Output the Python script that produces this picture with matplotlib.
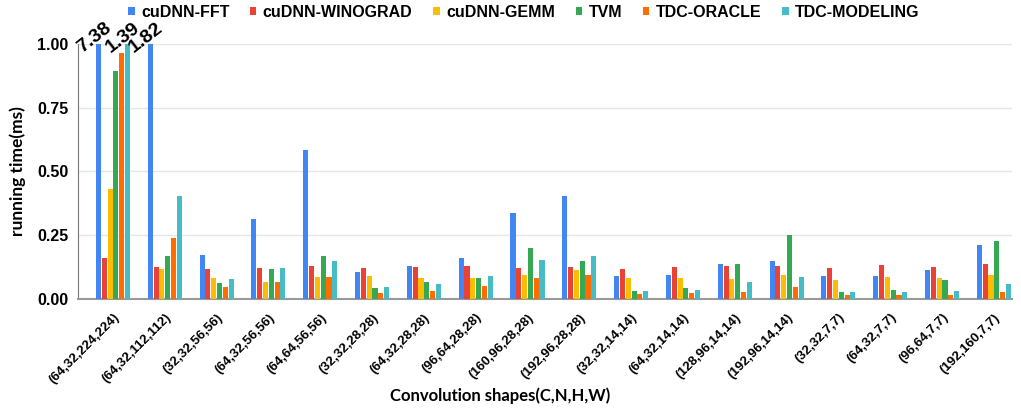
import numpy as np
import matplotlib.pyplot as plt
from matplotlib.transforms import ScaledTranslation

shapes = ['(64,32,224,224)', '(64,32,112,112)', '(32,32,56,56)', '(64,32,56,56)',
          '(64,64,56,56)', '(32,32,28,28)', '(64,32,28,28)', '(96,64,28,28)',
          '(160,96,28,28)', '(192,96,28,28)', '(32,32,14,14)', '(64,32,14,14)',
          '(128,96,14,14)', '(192,96,14,14)', '(32,32,7,7)', '(64,32,7,7)',
          '(96,64,7,7)', '(192,160,7,7)']

fft      = [7.38, 1.82, 0.174, 0.313, 0.585, 0.105, 0.131, 0.162, 0.338, 0.403,
            0.092, 0.094, 0.138, 0.147, 0.089, 0.089, 0.115, 0.210]
winograd = [0.161, 0.126, 0.119, 0.123, 0.131, 0.123, 0.126, 0.128, 0.122, 0.126,
            0.119, 0.124, 0.131, 0.131, 0.123, 0.134, 0.126, 0.139]
gemm     = [0.430, 0.116, 0.081, 0.068, 0.086, 0.092, 0.084, 0.081, 0.093, 0.113,
            0.084, 0.083, 0.077, 0.096, 0.073, 0.086, 0.083, 0.096]
tvm      = [0.895, 0.170, 0.063, 0.118, 0.168, 0.043, 0.065, 0.084, 0.200, 0.150,
            0.030, 0.043, 0.139, 0.250, 0.029, 0.037, 0.076, 0.228]
oracle   = [0.965, 0.240, 0.046, 0.068, 0.086, 0.024, 0.033, 0.052, 0.084, 0.095,
            0.020, 0.025, 0.029, 0.048, 0.017, 0.017, 0.017, 0.026]
modeling = [1.39, 0.403, 0.080, 0.123, 0.149, 0.048, 0.059, 0.089, 0.154, 0.168,
            0.031, 0.037, 0.068, 0.086, 0.029, 0.029, 0.033, 0.060]

series = [('cuDNN-FFT', fft, '#4285F4'),
          ('cuDNN-WINOGRAD', winograd, '#EA4335'),
          ('cuDNN-GEMM', gemm, '#FBBC04'),
          ('TVM', tvm, '#34A853'),
          ('TDC-ORACLE', oracle, '#FF6D01'),
          ('TDC-MODELING', modeling, '#46BDC6')]

fig = plt.figure(figsize=(10.21, 4.12), dpi=100)
ax = fig.add_axes([0.0764, 0.2743, 0.9148, 0.619])

x = np.arange(len(shapes))
w = 0.112
for i, (name, vals, col) in enumerate(series):
    pos = x + (i - 2.5) * w
    ax.bar(pos, np.minimum(vals, 1.0), width=w * 0.88, color=col, label=name, zorder=3)
    # values that run off the top get a label
    for p, v in zip(pos, vals):
        if v > 1.0:
            ax.text(p + 0.02, 1.0, '%.2f' % v, ha='center', va='bottom', rotation=38,
                    rotation_mode='anchor', fontsize=14, fontweight='bold',
                    family='Liberation Sans', clip_on=False, zorder=5)

ax.set_xlim(-0.675, 17.35)
ax.set_ylim(0, 1.0)
ax.set_yticks([0, 0.25, 0.5, 0.75, 1.0])
ax.set_yticklabels(['0.00', '0.25', '0.50', '0.75', '1.00'], fontsize=11.5,
                   fontweight='bold', family='Liberation Sans')
ax.set_xticks(x)
ax.set_xticklabels(shapes, rotation=45, ha='right', rotation_mode='anchor',
                   fontsize=9.5, fontweight='bold', family='Liberation Sans')
off = ScaledTranslation(2 / 72, 0, fig.dpi_scale_trans)
for lab in ax.get_xticklabels():
    lab.set_transform(lab.get_transform() + off)
ax.tick_params(axis='x', length=0, pad=9)
ax.tick_params(axis='y', length=0, pad=7)
ax.grid(axis='y', color='#e6e6e6', lw=1, zorder=0)
for s in ['top', 'right']:
    ax.spines[s].set_visible(False)
ax.spines['left'].set_color('#777777')
ax.spines['left'].set_linewidth(0.8)
ax.spines['bottom'].set_color('#999999')
ax.spines['bottom'].set_linewidth(1.5)

ax.set_ylabel('running time(ms)', fontsize=12.5, fontweight='bold', family='Lato',
              labelpad=8)
fig.text(0.49, 0.04, 'Convolution shapes(C,N,H,W)', ha='center', va='center',
         fontsize=12, fontweight='bold', family='Lato')

ax.legend(loc='center', bbox_to_anchor=(0.513, 0.97), bbox_transform=fig.transFigure,
          ncol=6, frameon=False,
          prop={'family': 'Liberation Sans', 'size': 11.5, 'weight': 'bold'},
          handlelength=0.4, handleheight=0.4, handletextpad=0.4, columnspacing=1.3)

plt.savefig('out.png', dpi=100)
